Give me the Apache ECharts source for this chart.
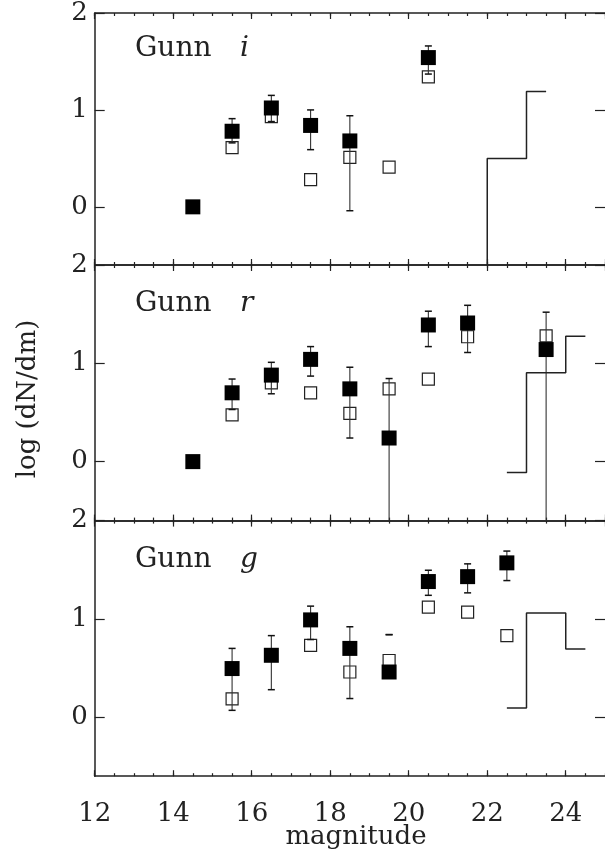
<html>
<head>
<meta charset="utf-8" />
<title></title>
<script type="text/javascript" src="https://cdn.jsdelivr.net/npm/echarts/dist/echarts.min.js"></script>
<style>
  html, body, #main { margin: 0; padding: 0; width: 100%; height: 100%; background: #fff; }
</style>
</head>
<body>
<div id="main"></div>
<script type="text/javascript">
// tick labels
var xTicks = [12, 14, 16, 18, 20, 22, 24];
var yTicks = [0, 1, 2];
var bands = ['i', 'r', 'g'];

// Gunn i  (x, log dN/dm)
var iSolid = [[14.5, 0], [15.5, 0.78], [16.5, 1.02], [17.5, 0.84], [18.5, 0.68], [20.5, 1.54]];
var iOpen = [[15.5, 0.61], [16.5, 0.93], [17.5, 0.28], [18.5, 0.51], [19.5, 0.41], [20.5, 1.34]];
var iErr = [[15.5, 0.66, 0.91], [16.5, 0.88, 1.15], [17.5, 0.59, 1.00], [18.5, -0.04, 0.94], [20.5, 1.37, 1.66]];
var iHistX = [22, 22, 23, 23.5];
var iHistY = [-1, 0.5, 1.19, 1.19];

// Gunn r
var rSolid = [[14.5, 0], [15.5, 0.70], [16.5, 0.88], [17.5, 1.04], [18.5, 0.74], [19.5, 0.24], [20.5, 1.39], [21.5, 1.41], [23.5, 1.14]];
var rOpen = [[15.5, 0.475], [16.5, 0.80], [17.5, 0.70], [18.5, 0.49], [19.5, 0.74], [20.5, 0.84], [21.5, 1.27], [23.5, 1.28]];
var rErr = [[15.5, 0.53, 0.84], [16.5, 0.69, 1.01], [17.5, 0.87, 1.17], [18.5, 0.24, 0.96], [19.5, -1, 0.845], [20.5, 1.17, 1.53], [21.5, 1.11, 1.59], [23.5, -1, 1.52]];
var rHistX = [22.5, 23, 24, 24.5];
var rHistY = [-0.11, 0.905, 1.275, 1.275];

// Gunn g
var gSolid = [[15.5, 0.495], [16.5, 0.63], [17.5, 0.99], [18.5, 0.70], [19.5, 0.46], [20.5, 1.38], [21.5, 1.43], [22.5, 1.57]];
var gOpen = [[15.5, 0.187], [17.5, 0.73], [18.5, 0.46], [19.5, 0.577], [20.5, 1.12], [21.5, 1.07], [22.5, 0.83]];
var gErr = [[15.5, 0.07, 0.70], [16.5, 0.28, 0.83], [17.5, 0.79, 1.13], [18.5, 0.19, 0.92], [19.5, 0.84, 0.84], [20.5, 1.24, 1.495], [21.5, 1.265, 1.56], [22.5, 1.39, 1.69]];
var gHistX = [22.5, 23, 24, 24.5];
var gHistY = [0.095, 1.06, 0.695, 0.695];

var solids = [iSolid, rSolid, gSolid];
var opens = [iOpen, rOpen, gOpen];
var errs = [iErr, rErr, gErr];
var histX = [iHistX, rHistX, gHistX];
var histY = [iHistY, rHistY, gHistY];

var FONT = 'DejaVu Serif';
var INK = '#222';
var gridTop = [9.4, 265.0, 520.6];
var gridH = 255.6;

var chart = echarts.init(document.getElementById('main'));

function renderErr(params, api) {
  var cs = params.coordSys;
  var x = api.value(0);
  var top = api.coord([x, api.value(2)]);
  var bot = api.coord([x, api.value(1)]);
  var yMax = cs.y + cs.height;
  var clipped = bot[1] > yMax;
  var by = Math.min(bot[1], yMax);
  var w = 3.5;
  var kids = [{
    type: 'line',
    shape: { x1: top[0], y1: top[1], x2: top[0], y2: by },
    style: { stroke: '#333', lineWidth: 1.1 }
  }, {
    type: 'line',
    shape: { x1: top[0] - w, y1: top[1], x2: top[0] + w, y2: top[1] },
    style: { stroke: '#111', lineWidth: 1.5 }
  }];
  if (!clipped) {
    kids.push({
      type: 'line',
      shape: { x1: bot[0] - w, y1: by, x2: bot[0] + w, y2: by },
      style: { stroke: '#111', lineWidth: 1.5 }
    });
  }
  return { type: 'group', children: kids };
}

var grids = [], xAxes = [], yAxes = [], series = [], graphics = [];

for (var k = 0; k < 3; k++) {
  grids.push({ left: 94.7, width: 511.3, top: gridTop[k], height: gridH });

  // major + minor ticks, bottom and top
  ['bottom', 'top'].forEach(function (pos) {
    xAxes.push({
      type: 'value', gridIndex: k, position: pos, min: 12, max: 25, interval: 2,
      axisLine: { show: true, onZero: false, lineStyle: { color: INK, width: 1.5 } },
      axisTick: { inside: true, length: 6, lineStyle: { color: INK, width: 1.2 } },
      axisLabel: {
        show: pos === 'bottom' && k === 2, showMaxLabel: false, margin: 25,
        fontFamily: FONT, fontSize: 26, color: INK,
        formatter: function (v) { return xTicks.indexOf(v) >= 0 ? String(v) : ''; }
      },
      splitLine: { show: false }
    });
    xAxes.push({
      type: 'value', gridIndex: k, position: pos, min: 12, max: 25, interval: 0.5,
      axisLine: { show: false, onZero: false },
      axisTick: { inside: true, length: 3, lineStyle: { color: INK, width: 1.2 } },
      axisLabel: { show: false },
      splitLine: { show: false }
    });
  });

  ['left', 'right'].forEach(function (pos) {
    yAxes.push({
      type: 'value', gridIndex: k, position: pos, min: -0.6, max: 2,
      axisLine: { show: pos === 'left', onZero: false, lineStyle: { color: INK, width: 1.5 } },
      axisTick: { inside: true, length: 10, customValues: yTicks, lineStyle: { color: INK, width: 1.2 } },
      axisLabel: {
        show: pos === 'left', customValues: yTicks, margin: 7,
        fontFamily: FONT, fontSize: 26, color: INK
      },
      splitLine: { show: false }
    });
  });

  var xi = k * 4, yi = k * 2;

  series.push({
    type: 'scatter', xAxisIndex: xi, yAxisIndex: yi, data: opens[k],
    symbol: 'rect', symbolSize: 12, z: 2, silent: true,
    itemStyle: { color: '#fff', borderColor: '#222', borderWidth: 1.2, opacity: 1 }
  });
  series.push({
    type: 'custom', xAxisIndex: xi, yAxisIndex: yi, data: errs[k],
    renderItem: renderErr, encode: { x: 0, y: [1, 2] }, z: 3, silent: true
  });
  series.push({
    type: 'line', xAxisIndex: xi, yAxisIndex: yi, step: 'end',
    data: histX[k].map(function (x, j) { return [x, histY[k][j]]; }),
    showSymbol: false, symbol: 'none', clip: true, z: 3, silent: true,
    lineStyle: { color: INK, width: 1.5 }
  });
  series.push({
    type: 'scatter', xAxisIndex: xi, yAxisIndex: yi, data: solids[k],
    symbol: 'rect', symbolSize: 15, z: 4, silent: true,
    itemStyle: { color: '#000', opacity: 1 }
  });

  // panel labels
  graphics.push({
    type: 'text', x: 135, y: gridTop[k] + 39,
    style: { text: 'Gunn', font: '28px "' + FONT + '"', fill: INK, verticalAlign: 'middle' }
  });
  graphics.push({
    type: 'text', x: 240, y: gridTop[k] + 39,
    style: { text: bands[k], font: 'italic 28px "' + FONT + '"', fill: INK, verticalAlign: 'middle' }
  });
}

// axis titles
graphics.push({
  type: 'text', x: 28, y: 399, rotation: Math.PI / 2,
  style: { text: 'log (dN/dm)', font: '26px "' + FONT + '"', fill: INK, align: 'center', verticalAlign: 'middle' }
});
graphics.push({
  type: 'text', x: 356, y: 837,
  style: { text: 'magnitude', font: '26px "' + FONT + '"', fill: INK, align: 'center', verticalAlign: 'middle' }
});

chart.setOption({
  animation: false,
  backgroundColor: '#fff',
  grid: grids,
  xAxis: xAxes,
  yAxis: yAxes,
  series: series,
  graphic: graphics
});
</script>
</body>
</html>
